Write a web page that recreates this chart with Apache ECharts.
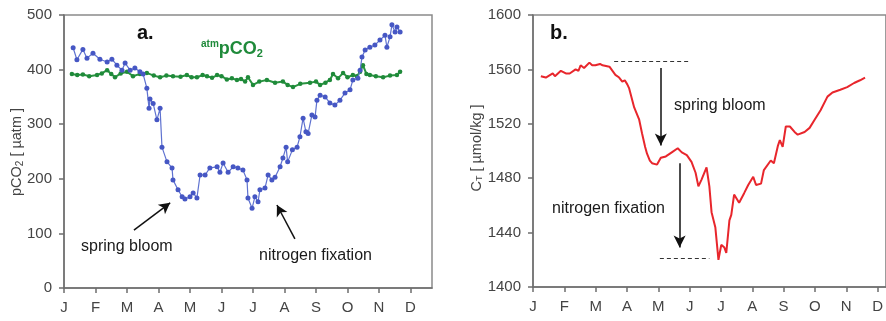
<!DOCTYPE html>
<html><head><meta charset="utf-8">
<script src="https://cdn.jsdelivr.net/npm/echarts@6/dist/echarts.min.js"></script>
<style>html,body{margin:0;padding:0;background:#fff}#c{width:886px;height:321px}</style>
</head><body><div id="c"></div>
<script>
var monthLabels = ['J','F','M','A','M','J','J','A','S','O','N','D'];

// Panel a: pCO2 (x in decimal months since Jan 1)
var pco2Month = [0.29,0.41,0.60,0.73,0.92,1.14,1.37,1.52,1.68,1.84,1.94,2.10,2.25,2.41,2.51,2.63,2.70,2.73,2.83,2.95,3.05,3.11,3.27,3.43,3.46,3.62,3.75,3.84,4.00,4.10,4.22,4.32,4.48,4.63,4.86,4.95,5.05,5.21,5.37,5.52,5.68,5.81,5.84,5.97,6.06,6.16,6.22,6.38,6.48,6.60,6.70,6.86,6.95,7.05,7.10,7.25,7.40,7.49,7.59,7.68,7.75,7.87,7.97,8.03,8.13,8.29,8.44,8.60,8.76,8.92,9.08,9.17,9.33,9.40,9.46,9.56,9.71,9.87,10.03,10.19,10.25,10.35,10.41,10.51,10.57,10.67];
var pco2Value = [440,418,437,421,430,419,414,419,408,399,412,399,403,396,392,366,329,346,338,308,329,258,231,220,198,180,167,163,167,174,165,207,207,220,222,212,229,212,222,220,216,198,165,146,167,158,180,183,207,198,203,222,238,258,231,253,258,277,311,286,283,317,313,344,353,350,339,335,344,357,363,381,384,399,423,436,441,445,454,463,441,460,482,469,478,469];

var atmMonth = [0.25,0.42,0.60,0.80,1.05,1.20,1.37,1.50,1.62,1.80,2.00,2.19,2.41,2.63,2.85,3.05,3.25,3.46,3.70,3.90,4.05,4.22,4.40,4.54,4.70,4.86,5.00,5.17,5.33,5.49,5.62,5.75,5.84,6.00,6.20,6.44,6.70,6.95,7.10,7.27,7.50,7.81,8.00,8.13,8.30,8.44,8.54,8.70,8.86,9.00,9.17,9.30,9.40,9.49,9.60,9.71,9.90,10.13,10.35,10.57,10.67];
var atmValue = [392,390,391,388,390,393,399,392,386,393,396,388,392,394,389,386,389,388,387,390,386,386,390,388,385,390,388,382,384,381,383,378,386,372,378,381,376,378,372,368,374,376,378,372,376,381,392,384,394,386,390,388,396,408,392,390,388,386,389,390,396];

// Panel b: CT
var ctMonth = [0.25,0.41,0.63,0.70,0.89,1.05,1.17,1.36,1.45,1.52,1.63,1.80,1.89,1.99,2.14,2.22,2.44,2.63,2.75,2.85,2.93,3.01,3.07,3.23,3.39,3.48,3.58,3.64,3.73,3.80,3.96,4.08,4.24,4.43,4.62,4.75,4.91,5.06,5.19,5.28,5.38,5.54,5.63,5.70,5.82,5.92,6.01,6.11,6.17,6.27,6.33,6.42,6.58,6.74,6.87,7.03,7.12,7.28,7.37,7.59,7.69,7.82,7.88,7.97,8.07,8.20,8.35,8.45,8.67,8.83,8.99,9.18,9.40,9.56,9.81,10.03,10.25,10.44,10.60];
var ctValue = [1555,1554,1557,1555,1559,1557,1557,1560,1559,1563,1561,1565,1563,1563,1564,1563,1562,1556,1554,1551,1552,1549,1546,1532,1523,1513,1503,1498,1493,1491,1490,1495,1496,1499,1502,1499,1497,1492,1484,1474,1479,1488,1474,1455,1444,1420,1431,1429,1425,1449,1453,1468,1462,1469,1475,1481,1475,1476,1486,1493,1491,1504,1508,1503,1518,1518,1514,1512,1514,1517,1523,1530,1540,1543,1545,1547,1550,1552,1554];

function zipXY(xs, ys){ return xs.map(function(x,i){return [x, ys[i]];}); }

var axisCol = '#6e6e6e';
var labelStyle = {color:'#444', fontSize:15, fontFamily:'Liberation Sans, Arial, sans-serif'};
function xAxisDef(idx, max){
  return {type:'value', gridIndex:idx, min:0, max:max, interval:1,
    axisLine:{show:true, lineStyle:{color:axisCol, width:1.5}},
    axisTick:{show:true, length:5, lineStyle:{color:axisCol, width:1.5}},
    axisLabel:Object.assign({margin:12, showMaxLabel:false, formatter:function(v){return monthLabels[Math.round(v)]||'';}}, labelStyle),
    splitLine:{show:false}};
}
function yAxisDef(idx, min, max, interval){
  return {type:'value', gridIndex:idx, min:min, max:max, interval:interval,
    axisLine:{show:true, lineStyle:{color:axisCol, width:1.5}},
    axisTick:{show:true, length:5, lineStyle:{color:axisCol, width:1.5}},
    axisLabel:Object.assign({margin:12, formatter:function(v){return String(v);}}, labelStyle),
    splitLine:{show:false}};
}
var arrowLine = {color:'#111', width:1.5, type:'solid'};
var dashLine = {color:'#333', width:1.2, type:[4,3]};

var option = {
  animation:false,
  backgroundColor:'#fff',
  grid:[
    {left:64, top:15, width:368, height:273, show:true, borderColor:'#8a8a8a', borderWidth:1.5},
    {left:533, top:15, width:356, height:272, show:true, borderColor:'#8a8a8a', borderWidth:1.5}
  ],
  xAxis:[xAxisDef(0, 368/31.5), xAxisDef(1, 356/31.6)],
  yAxis:[yAxisDef(0, 0, 500, 100), yAxisDef(1, 1400, 1600, 40)],
  series:[
    {type:'line', xAxisIndex:0, yAxisIndex:0, data:zipXY(atmMonth, atmValue),
     symbol:'circle', symbolSize:4.5, lineStyle:{color:'#2a9440', width:2}, itemStyle:{color:'#1f8a3a'}, z:3},
    {type:'line', xAxisIndex:0, yAxisIndex:0, data:zipXY(pco2Month, pco2Value),
     symbol:'circle', symbolSize:5, lineStyle:{color:'#5f72d0', width:1.2}, itemStyle:{color:'#4657c4'}, z:4,
     markLine:{silent:true, symbol:['none','arrow'], symbolSize:[9,11], label:{show:false}, lineStyle:arrowLine,
       data:[
         [{coord:[2.22,106]},{coord:[3.37,156]}],
         [{coord:[7.33,90]},{coord:[6.76,152]}]
       ]}},
    {type:'line', xAxisIndex:1, yAxisIndex:1, data:zipXY(ctMonth, ctValue),
     symbol:'none', lineStyle:{color:'#e8262c', width:2}, z:4,
     markLine:{silent:true, label:{show:false}, symbol:['none','none'],
       data:[
         [{coord:[2.59,1566], lineStyle:dashLine},{coord:[4.97,1566]}],
         [{coord:[4.05,1421], lineStyle:dashLine},{coord:[5.63,1421]}],
         [{coord:[4.08,1561], symbol:'none', lineStyle:arrowLine},{coord:[4.08,1504], symbol:'arrow', symbolSize:[9,12]}],
         [{coord:[4.68,1491], symbol:'none', lineStyle:arrowLine},{coord:[4.68,1429], symbol:'arrow', symbolSize:[9,12]}]
       ]}}
  ],
  graphic:[
    {type:'text', x:17, y:152, rotation:Math.PI/2, style:{
      text:'{a|pCO}{s|2}{a| [ µatm ]}', align:'center', verticalAlign:'middle',
      rich:{a:{fontSize:14.5, fill:'#444', fontFamily:'Liberation Sans, Arial'}, s:{fontSize:10, fill:'#444', fontFamily:'Liberation Sans, Arial', verticalAlign:'bottom', padding:[6,0,0,0]}}}},
    {type:'text', x:477, y:148, rotation:Math.PI/2, style:{
      text:'{a|C}{s|T}{a| [ µmol/kg ]}', align:'center', verticalAlign:'middle',
      rich:{a:{fontSize:14.5, fill:'#444', fontFamily:'Liberation Sans, Arial'}, s:{fontSize:9, fill:'#444', fontFamily:'Liberation Sans, Arial', verticalAlign:'bottom', padding:[6,0,0,0]}}}},
    {type:'text', x:137, y:33, style:{text:'a.', font:'bold 20px Liberation Sans, Arial', fill:'#111', verticalAlign:'middle'}},
    {type:'text', x:550, y:33, style:{text:'b.', font:'bold 20px Liberation Sans, Arial', fill:'#111', verticalAlign:'middle'}},
    {type:'text', x:201, y:49, style:{
      text:'{sup|atm}{m|pCO}{sub|2}', verticalAlign:'middle',
      rich:{
        sup:{fontSize:10, fontWeight:'bold', fill:'#1f8a3a', fontFamily:'Liberation Sans, Arial', verticalAlign:'top', padding:[0,0,9,0]},
        m:{fontSize:18, fontWeight:'bold', fill:'#1f8a3a', fontFamily:'Liberation Sans, Arial'},
        sub:{fontSize:11, fontWeight:'bold', fill:'#1f8a3a', fontFamily:'Liberation Sans, Arial', verticalAlign:'bottom', padding:[9,0,0,0]}}}},
    {type:'text', x:81, y:247, style:{text:'spring bloom', font:'16px Liberation Sans, Arial', fill:'#1a1a1a', verticalAlign:'middle'}},
    {type:'text', x:259, y:256, style:{text:'nitrogen fixation', font:'16px Liberation Sans, Arial', fill:'#1a1a1a', verticalAlign:'middle'}},
    {type:'text', x:674, y:106, style:{text:'spring bloom', font:'16px Liberation Sans, Arial', fill:'#1a1a1a', verticalAlign:'middle'}},
    {type:'text', x:552, y:209, style:{text:'nitrogen fixation', font:'16px Liberation Sans, Arial', fill:'#1a1a1a', verticalAlign:'middle'}}
  ]
};
var chart = echarts.init(document.getElementById('c'), null, {renderer:'canvas'});
chart.setOption(option);
</script></body></html>
